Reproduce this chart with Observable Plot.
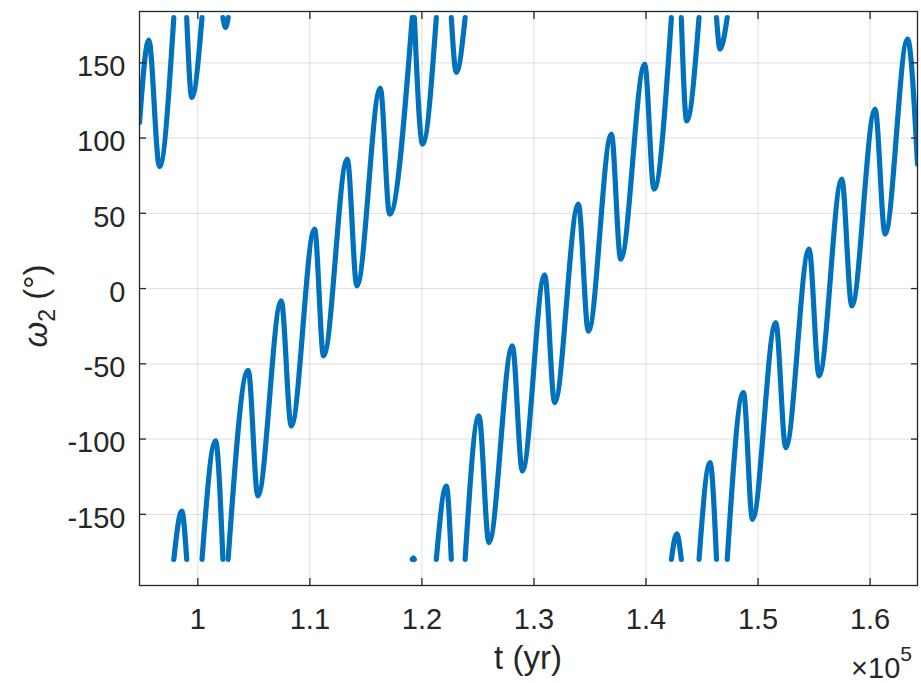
<!DOCTYPE html>
<html>
<head>
<meta charset="utf-8">
<script src="https://cdn.jsdelivr.net/npm/d3@7"></script>
<script src="https://cdn.jsdelivr.net/npm/@observablehq/plot@0.6"></script>
<style>
  html, body { margin: 0; padding: 0; background: #fff; }
  #chart svg { display: block; }
</style>
</head>
<body>
<div id="chart"></div>
<script>
// Argument of pericentre of body 2 versus time. The angle is wrapped to
// [-180, 180], so the curve is stored as unbroken branches; each branch
// lists the turning points and the places where it leaves through ±180°.
const branch = [
  0, 0, 0, 0,
  1, 1, 1,
  2, 2, 2,
  3, 3, 3,
  4, 4, 4,
  5, 5, 5, 5, 5, 5, 5, 5, 5, 5, 5, 5,
  6, 6, 6,
  7, 7, 7,
  8, 8, 8,
  9, 9, 9,
  10, 10, 10, 10, 10, 10, 10, 10, 10, 10, 10, 10, 10, 10,
  11, 11, 11,
  12, 12, 12,
  13, 13, 13,
  14, 14, 14,
  15, 15, 15, 15, 15, 15, 15, 15, 15, 15, 15, 15, 15
];
const tYr = [
  94795, 95625, 96580, 97857,
  97857, 98571, 99009,
  99009, 99464, 100375,
  100375, 101580, 102241,
  102241, 102473, 102705,
  102705, 104500, 105357, 107446, 108339, 110420, 111223, 113339, 114196, 116286, 117116, 119134,
  119134, 119232, 119330,
  119330, 120062, 121286,
  121286, 122178, 122625,
  122625, 123071, 123857,
  123857, 125089, 125982, 128071, 128964, 130955, 131848, 133964, 134857, 136911, 137741, 139884, 140714, 142268,
  142268, 142741, 143152,
  143152, 143634, 144732,
  144732, 145714, 146295,
  146295, 146607, 147250,
  147250, 148697, 149500, 151580, 152473, 154554, 155447, 157473, 158366, 160447, 161339, 163339, 164232
];
const omega2 = [
  110.3, 165.1, 81.1, 180,
  -180, -147.8, -180,
  180, 127, 180,
  -180, -101.2, -180,
  180, 173.5, 180,
  -180, -54.3, -137.8, -8.2, -91.3, 39.5, -44.7, 86, 1.8, 133.2, 49.5, 180,
  -180, -179, -180,
  180, 96, 180,
  -180, -131.2, -180,
  180, 143.6, 180,
  -180, -84.6, -168.8, -38.1, -121.2, 9.1, -75.8, 56.1, -28.3, 102.6, 19.5, 149.2, 66.1, 180,
  -180, -162.9, -180,
  180, 111.4, 180,
  -180, -115.7, -180,
  180, 159.1, 180,
  -180, -69.1, -153.3, -22.6, -105.7, 26.2, -58, 72.7, -11.5, 119.3, 36.2, 165.8, 82.7
];

// Axis limits and tick labels
const xLimits = [94795, 164232];
const yLimits = [-197.3, 184.1];
const xTicks = [100000, 110000, 120000, 130000, 140000, 150000, 160000];
const xTickLabels = ["1", "1.1", "1.2", "1.3", "1.4", "1.5", "1.6"];
const yTicks = [-150, -100, -50, 0, 50, 100, 150];
const yTickLabels = ["-150", "-100", "-50", "0", "50", "100", "150"];

const rows = tYr.map((t, i) => ({t, w: omega2[i], b: branch[i]}));

const ink = "#262626";
const font = "'Liberation Sans', Arial, Helvetica, sans-serif";

const chart = Plot.plot({
  width: 921,
  height: 683,
  marginLeft: 139,
  marginRight: 4,
  marginTop: 11,
  marginBottom: 98,
  style: {fontFamily: font, fontSize: "29px", color: ink, background: "#fff", overflow: "visible"},
  x: {domain: xLimits},
  y: {domain: yLimits},
  marks: [
    Plot.gridX(xTicks, {stroke: ink, strokeOpacity: 0.15, strokeWidth: 1}),
    Plot.gridY(yTicks, {stroke: ink, strokeOpacity: 0.15, strokeWidth: 1}),
    Plot.line(rows, {
      x: "t", y: "w", z: "b",
      stroke: "#0072BD", strokeWidth: 5.2,
      strokeLinecap: "round", strokeLinejoin: "round",
      curve: "monotone-x", clip: true
    }),
    Plot.frame({stroke: ink, strokeWidth: 1.3}),
    // tick labels
    Plot.axisX(xTicks, {anchor: "bottom", tickSize: 0, tickPadding: 23, label: null,
      tickFormat: d => xTickLabels[xTicks.indexOf(d)]}),
    Plot.axisY(yTicks, {anchor: "left", tickSize: 0, tickPadding: 14, label: null, dy: 4,
      tickFormat: d => yTickLabels[yTicks.indexOf(d)]}),
    // inward tick marks on all four sides
    Plot.axisX(xTicks, {anchor: "bottom", tickSize: -7, stroke: ink, strokeWidth: 1.3, label: null, tickFormat: () => ""}),
    Plot.axisX(xTicks, {anchor: "top", tickSize: -7, stroke: ink, strokeWidth: 1.3, label: null, tickFormat: () => ""}),
    Plot.axisY(yTicks, {anchor: "left", tickSize: -7, stroke: ink, strokeWidth: 1.3, label: null, tickFormat: () => ""}),
    Plot.axisY(yTicks, {anchor: "right", tickSize: -7, stroke: ink, strokeWidth: 1.3, label: null, tickFormat: () => ""})
  ]
});

document.getElementById("chart").appendChild(chart);

// Axis titles and the ×10^5 exponent label
const svg = d3.select(chart);

svg.append("text")
  .attr("x", 528).attr("y", 669)
  .attr("text-anchor", "middle")
  .attr("fill", ink)
  .style("font-family", font).style("font-size", "33px")
  .text("t (yr)");

const yl = svg.append("text")
  .attr("transform", "translate(47,306) rotate(-90)")
  .attr("text-anchor", "middle")
  .attr("fill", ink)
  .style("font-family", font).style("font-size", "33px");
yl.append("tspan").style("font-style", "italic").text("ω");
yl.append("tspan").attr("dy", 8).style("font-size", "23px").text("2");
yl.append("tspan").attr("dy", -8).text(" (°)");

const ex = svg.append("text")
  .attr("x", 912).attr("y", 678)
  .attr("text-anchor", "end")
  .attr("fill", ink)
  .style("font-family", font).style("font-size", "29px");
ex.append("tspan").text("×10");
ex.append("tspan").attr("dy", -17).style("font-size", "21px").text("5");
</script>
</body>
</html>
